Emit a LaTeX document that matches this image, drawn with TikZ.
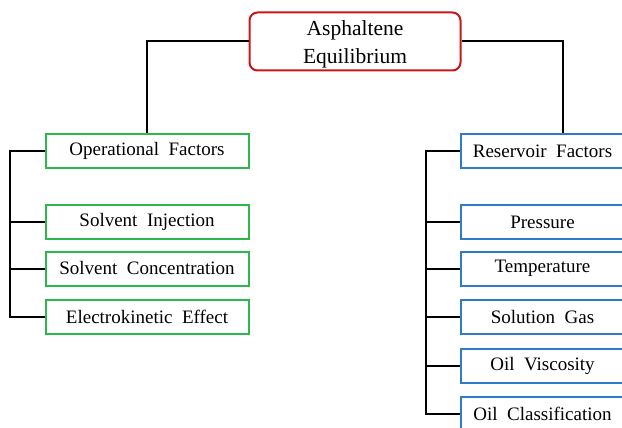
\documentclass[tikz,border=0pt]{standalone}
\usepackage{fontspec}
\setmainfont{Liberation Serif}
\definecolor{topred}{HTML}{C8161D}
\definecolor{opgreen}{HTML}{2DB84C}
\definecolor{resblue}{HTML}{2E7BC6}
\tikzset{
  base/.style={draw, line width=2pt, fill=white, inner sep=0pt, align=center,
    font=\fontsize{19}{23}\selectfont, minimum height=34pt},
  topbox/.style={base, draw=topred, rounded corners=8pt, minimum width=211pt, minimum height=58pt},
  toptext/.style={inner sep=0pt, align=center, font=\fontsize{21.5}{28}\selectfont},
  opbox/.style={base, draw=opgreen, minimum width=203pt},
  resbox/.style={base, draw=resblue, minimum width=163pt},
  conn/.style={line width=2pt, black},
}
\begin{document}
\begin{tikzpicture}[x=1pt,y=-1pt]
\useasboundingbox (0,0) rectangle (622,428);
\clip (0,0) rectangle (622,428);
\node[topbox] (top) at (355,41.5) {};
\node[toptext] (toplabel) at (355,44) {Asphaltene\\Equilibrium};
\node[opbox] (op) at (147,151) {Operational\ \ Factors};
\node[opbox] (inj) at (147,222) {Solvent\ \ Injection};
\node[opbox] (conc) at (147,268.5) {Solvent\ \ Concentration};
\node[opbox] (elec) at (147,317) {Electrokinetic\ \ Effect};
\node[resbox] (res) at (542.5,151) {Reservoir\ \ Factors};
\node[resbox] (pres) at (542.5,222) {Pressure};
\node[resbox] (temp) at (542.5,268.5) {Temperature};
\node[resbox] (gas) at (542.5,317) {Solution\ \ Gas};
\node[resbox] (visc) at (542.5,365.5) {Oil\ \ Viscosity};
\node[resbox] (cls) at (542.5,413.5) {Oil\ \ Classification};
\coordinate (rdrop) at (563,150);
\draw[conn] (top.west) -| (op.north);
\draw[conn] (top.east) -| (rdrop |- res.north);
\draw[conn] (op.west) -- ++(-35,0) coordinate (lt) |- (elec.west);
\draw[conn] (lt |- inj.west) -- (inj.west);
\draw[conn] (lt |- conc.west) -- (conc.west);
\draw[conn] (res.west) -- ++(-34,0) coordinate (rt) |- (cls.west);
\draw[conn] (rt |- pres.west) -- (pres.west);
\draw[conn] (rt |- temp.west) -- (temp.west);
\draw[conn] (rt |- gas.west) -- (gas.west);
\draw[conn] (rt |- visc.west) -- (visc.west);
\end{tikzpicture}
\end{document}
